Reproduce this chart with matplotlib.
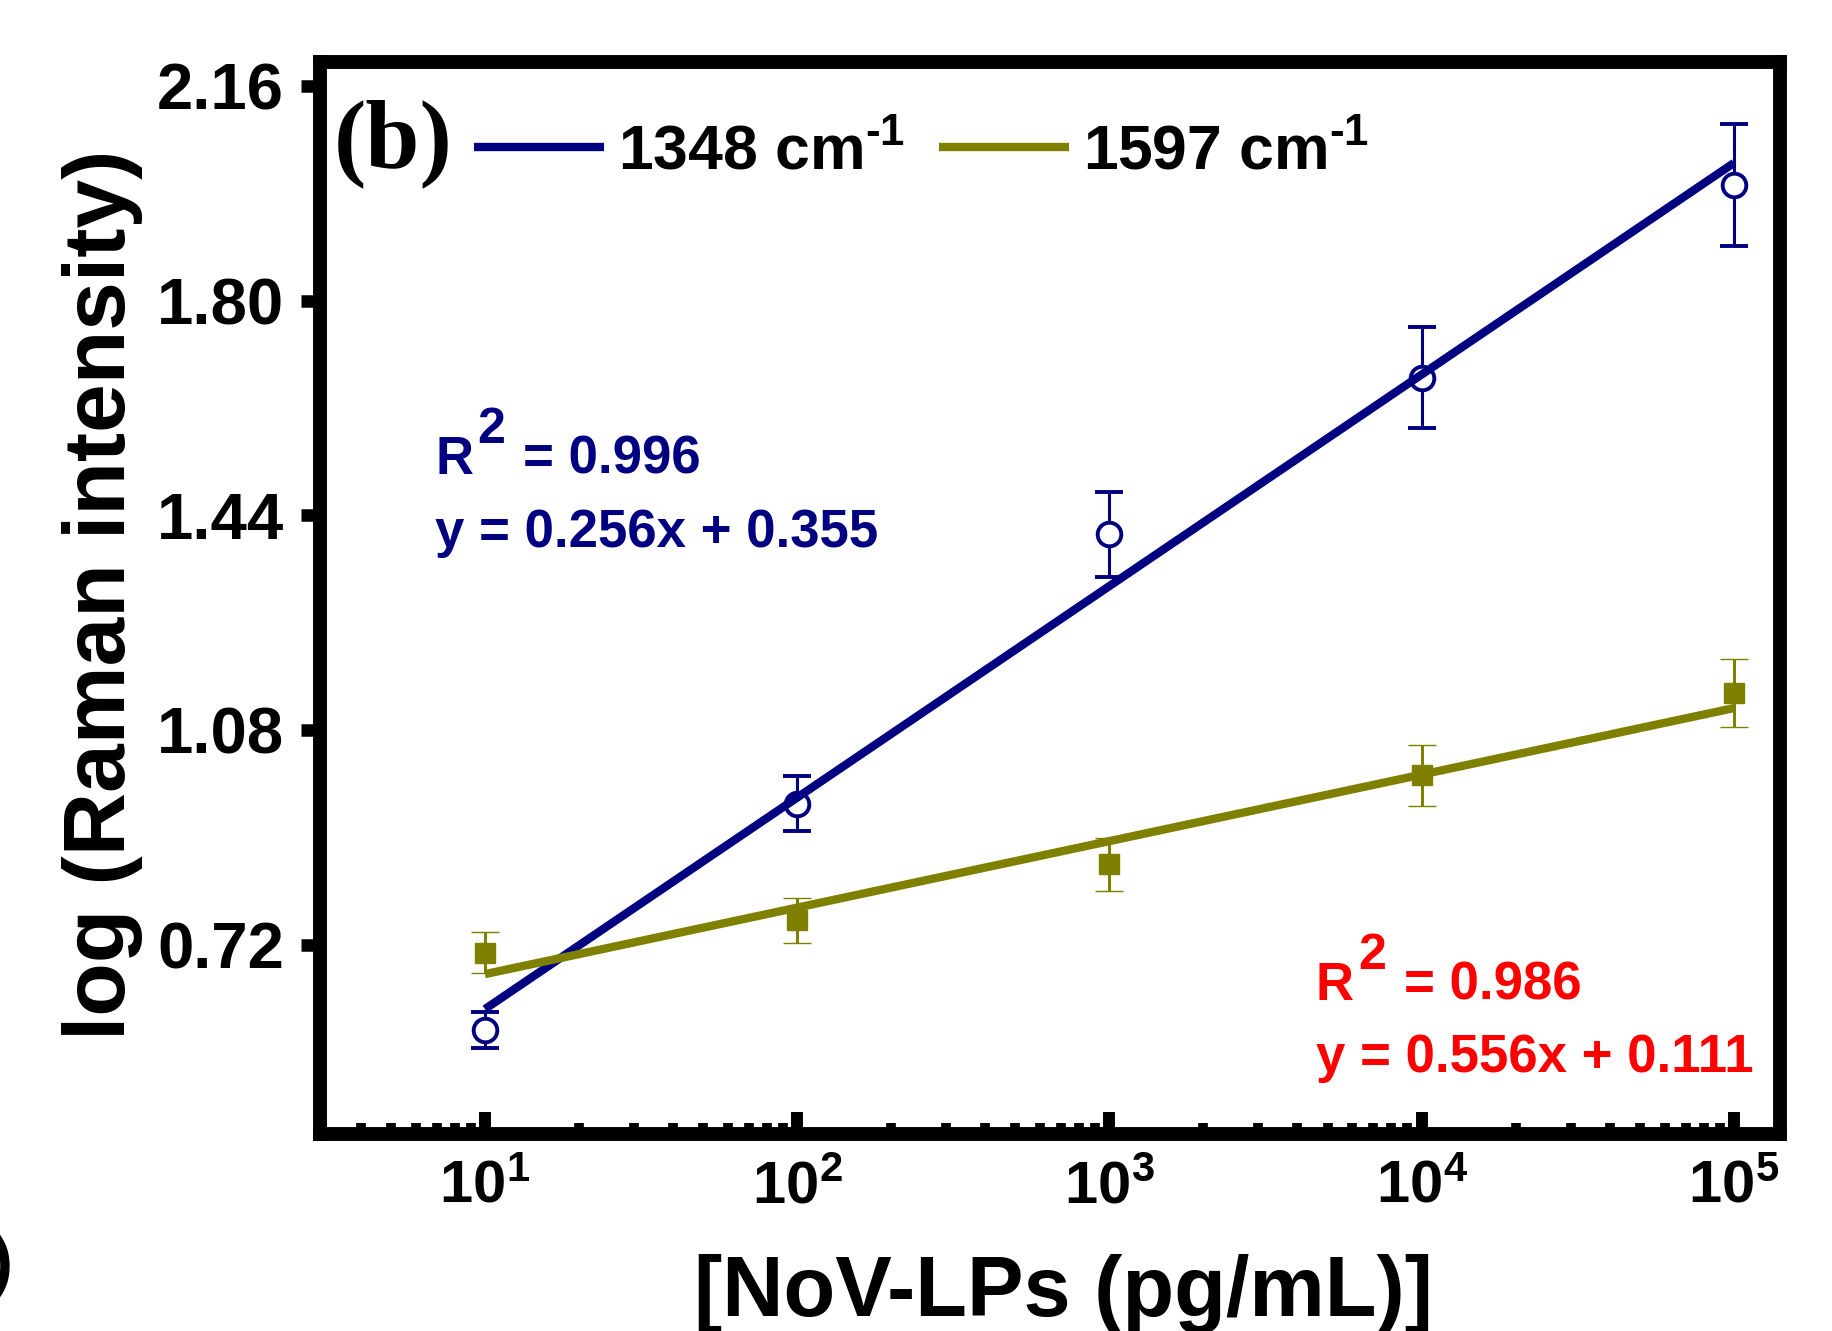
import numpy as np
import matplotlib
matplotlib.use('Agg')
import matplotlib.pyplot as plt

# data
conc = [1e1, 1e2, 1e3, 1e4, 1e5]
int_1348 = [0.578, 0.957, 1.408, 1.671, 1.994]
err_1348 = [0.030, 0.046, 0.071, 0.084, 0.102]
int_1597 = [0.707, 0.761, 0.855, 1.004, 1.143]
err_1597 = [0.034, 0.038, 0.045, 0.051, 0.057]
y_ticks = [0.72, 1.08, 1.44, 1.80, 2.16]
x_ticks = [1e1, 1e2, 1e3, 1e4, 1e5]

BLUE = '#000080'
OLIVE = '#808000'
RED = '#ff0000'

plt.rcParams['font.family'] = ['Liberation Sans', 'DejaVu Sans']
plt.rcParams['font.weight'] = 'bold'
plt.rcParams['mathtext.fontset'] = 'custom'
plt.rcParams['mathtext.rm'] = 'Liberation Sans:bold'
plt.rcParams['mathtext.bf'] = 'Liberation Sans:bold'
plt.rcParams['mathtext.it'] = 'Liberation Sans:bold'
plt.rcParams['mathtext.default'] = 'bf'


def r2_label(ax, x, y, value, color, size):
    # R with a big raised 2, then the value on the same baseline
    t_r = ax.text(x, y, 'R', transform=ax.transAxes, color=color,
                  fontsize=size, fontweight='bold', va='baseline', ha='left')
    t_2 = ax.annotate('2', xy=(1, 0.84), xycoords=t_r, xytext=(3, 0),
                      textcoords='offset points', ha='left', va='baseline',
                      color=color, fontsize=size * 0.95, fontweight='bold')
    ax.annotate('= ' + value, xy=(1, 0), xycoords=(t_2, t_r), xytext=(13, 0),
                textcoords='offset points', ha='left', va='bottom',
                color=color, fontsize=size, fontweight='bold')


fig = plt.figure(figsize=(18.32, 13.31), dpi=100)
ax = fig.add_axes([320 / 1832, 1 - 1134 / 1331, 1460 / 1832, 1072 / 1331])

logc = np.log10(conc)
fit_1348 = np.polyval(np.polyfit(logc, int_1348, 1), logc)
fit_1597 = np.polyval(np.polyfit(logc, int_1597, 1), logc)

ax.errorbar(conc, int_1348, yerr=err_1348, fmt='o', ms=17, mfc='white', mec=BLUE,
            mew=2.8, ecolor=BLUE, elinewidth=2.2, capsize=10, capthick=2.4, zorder=3)
ax.errorbar(conc, int_1597, yerr=err_1597, fmt='s', ms=15, mfc=OLIVE, mec=OLIVE,
            mew=1, ecolor=OLIVE, elinewidth=2.2, capsize=10, capthick=2.4, zorder=3)
l1, = ax.plot(conc, fit_1348, color=BLUE, lw=6, zorder=4, solid_capstyle='butt',
              label=r'1348 cm$^{\text{-}1}$')
l2, = ax.plot(conc, fit_1597, color=OLIVE, lw=6, zorder=4, solid_capstyle='butt',
              label=r'1597 cm$^{\text{-}1}$')

ax.set_xscale('log')
ax.set_xlim(2.963, 1.404e5)
ax.set_ylim(0.403, 2.200)
ax.set_yticks(y_ticks)
ax.set_yticklabels(['%.2f' % v for v in y_ticks])
ax.set_xticks(x_ticks)
ax.set_xticklabels(['$10^{%d}$' % int(np.log10(v)) for v in x_ticks])

for sp in ax.spines.values():
    sp.set_linewidth(10)
ax.tick_params(axis='y', which='major', direction='out', length=14, width=9,
               pad=12, labelsize=47)
ax.tick_params(axis='y', which='minor', left=False)
ax.tick_params(axis='x', which='major', direction='in', length=16, width=8.6,
               pad=19, labelsize=43)
ax.tick_params(axis='x', which='minor', direction='in', length=8, width=7)

ax.set_ylabel('log (Raman intensity)', fontsize=63, fontweight='bold')
ax.yaxis.set_label_coords(-0.121, 0.503)
ax.set_xlabel('[NoV-LPs (pg/mL)]', fontsize=61, fontweight='bold')
ax.xaxis.set_label_coords(0.509, -0.112)

ax.text(0.0096, 0.902, '(b)', transform=ax.transAxes, fontsize=70, fontweight='bold',
        family='Liberation Serif', va='baseline', ha='left')

ax.legend(handles=[l1, l2], ncol=2, loc='center left', bbox_to_anchor=(0.1055, 0.916),
          frameon=False, borderpad=0, borderaxespad=0, handlelength=2.08,
          handletextpad=0.22, columnspacing=0.55, prop={'size': 45, 'weight': 'bold'})

r2_label(ax, 0.0788, 0.6157, '0.996', BLUE, 38)
ax.text(0.0788, 0.5476, 'y = 0.256x + 0.355', transform=ax.transAxes, color=BLUE,
        fontsize=38, fontweight='bold', va='baseline', ha='left')
r2_label(ax, 0.682, 0.125, '0.986', RED, 38)
ax.text(0.682, 0.0578, 'y = 0.556x + 0.111', transform=ax.transAxes, color=RED,
        fontsize=38, fontweight='bold', va='baseline', ha='left')

# clipped character left over from the neighbouring panel
fig.text(0.007, 0.035, ')', fontsize=50, fontweight='bold', ha='right', va='baseline')

fig.savefig('out.png', dpi=100)
